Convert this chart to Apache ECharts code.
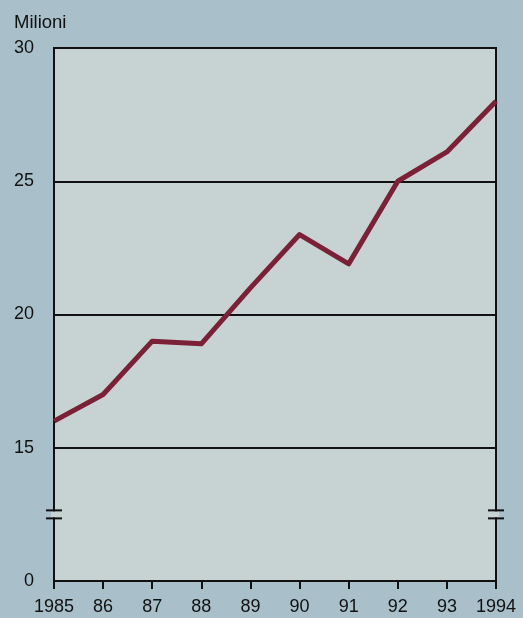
<!DOCTYPE html>
<html>
<head>
<meta charset="utf-8">
<script src="https://cdn.jsdelivr.net/npm/echarts@6/dist/echarts.min.js"></script>
<style>
html,body{margin:0;padding:0;background:#a9bfca;}
#c{width:523px;height:618px;}
</style>
</head>
<body>
<div id="c"></div>
<script>
const years = ['1985','86','87','88','89','90','91','92','93','1994'];
const values = [16.0, 17.0, 19.0, 18.9, 21.0, 23.0, 21.9, 25.0, 26.1, 28.0];
const yTicks = [10, 15, 20, 25, 30];
const yTickLabels = ['0', '15', '20', '25', '30'];
const unitLabel = 'Milioni';
const breakValue = 12.5;

const chart = echarts.init(document.getElementById('c'), null, {renderer: 'canvas'});
const font = 'Liberation Sans, Arial, Helvetica, sans-serif';
chart.setOption({
  backgroundColor: '#a9bfca',
  animation: false,
  title: {
    text: unitLabel, left: 9, top: 8,
    textStyle: {fontFamily: font, fontSize: 18.5, fontWeight: 'normal', color: '#111'}
  },
  grid: {
    left: 54, right: 27, top: 48, bottom: 37,
    show: true, backgroundColor: '#c7d3d2', borderColor: '#111', borderWidth: 2
  },
  xAxis: {
    type: 'category', data: years, boundaryGap: false,
    axisLine: {lineStyle: {color: '#111', width: 2}},
    axisTick: {show: true, length: 8, lineStyle: {color: '#111', width: 2}, alignWithLabel: true},
    axisLabel: {fontFamily: font, fontSize: 18, color: '#111', margin: 17, interval: 0},
    splitLine: {show: false}
  },
  yAxis: {
    type: 'value', min: 10, max: 30, interval: 5,
    axisLine: {show: true, lineStyle: {color: '#111', width: 2}},
    axisTick: {show: false},
    axisLabel: {
      fontFamily: font, fontSize: 18, color: '#111', margin: 20,
      formatter: function (v) { const i = yTicks.indexOf(v); return i >= 0 ? yTickLabels[i] : ''; }
    },
    splitLine: {show: true, lineStyle: {color: '#111', width: 1.8}}
  },
  series: [{
    type: 'line', data: values, symbol: 'none',
    lineStyle: {color: '#7b2036', width: 5, join: 'round'}
  }]
});

function drawBreaks() {
  const yb = chart.convertToPixel({yAxisIndex: 0}, breakValue);
  const xl = chart.convertToPixel({xAxisIndex: 0}, 0);
  const xr = chart.convertToPixel({xAxisIndex: 0}, years.length - 1);
  const els = [];
  [xl, xr].forEach(function (x) {
    els.push({type: 'rect', shape: {x: x - 3, y: yb - 3, width: 6, height: 6}, style: {fill: '#c7d3d2'}, z: 100});
    els.push({type: 'line', shape: {x1: x - 8, y1: yb - 4, x2: x + 8, y2: yb - 4}, style: {stroke: '#111', lineWidth: 2}, z: 101});
    els.push({type: 'line', shape: {x1: x - 8, y1: yb + 4, x2: x + 8, y2: yb + 4}, style: {stroke: '#111', lineWidth: 2}, z: 101});
  });
  chart.setOption({graphic: els});
}
drawBreaks();
</script>
</body>
</html>
